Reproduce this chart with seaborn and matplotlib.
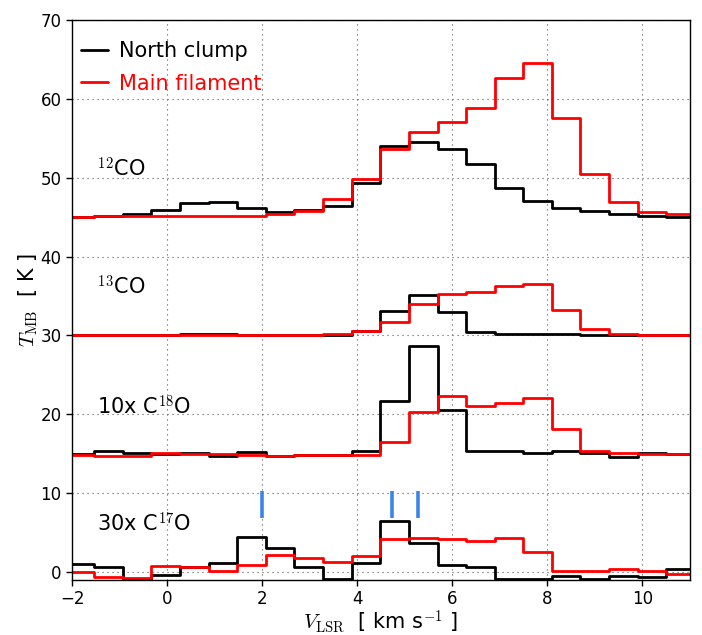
import numpy as np
import pandas as pd
import matplotlib
matplotlib.use("Agg")
import matplotlib.pyplot as plt
import seaborn as sns

# Channel edges (km/s)
v_edges = [-2.13, -1.53, -0.93, -0.33, 0.27, 0.88, 1.48, 2.08, 2.68, 3.28, 3.88,
           4.48, 5.09, 5.69, 6.29, 6.89, 7.49, 8.09, 8.69, 9.30, 9.90, 10.50, 11.10]

# Spectra (offset values as plotted), one value per channel
co12_north = [45.06, 45.2, 45.4, 45.95, 46.8, 46.9, 46.2, 45.65, 45.9, 46.4, 49.3,
              53.97, 54.5, 53.7, 51.7, 48.7, 47.1, 46.2, 45.8, 45.4, 45.2, 45.0]
co12_main = [45.06, 45.2, 45.2, 45.2, 45.2, 45.2, 45.2, 45.4, 45.8, 47.3, 49.9,
             53.6, 55.8, 57.1, 58.9, 62.7, 64.5, 57.6, 50.5, 46.9, 45.7, 45.4]
co13_north = [30.0, 30.0, 30.0, 30.0, 30.2, 30.2, 30.0, 30.0, 30.0, 30.0, 30.55,
              33.1, 35.1, 33.0, 30.5, 30.2, 30.2, 30.2, 30.0, 30.0, 30.0, 30.0]
co13_main = [30.0, 30.0, 30.0, 30.0, 30.0, 30.0, 30.0, 30.0, 30.0, 30.15, 30.55,
             31.7, 34.0, 35.2, 35.5, 36.3, 36.5, 33.2, 30.8, 30.15, 30.0, 30.0]
c18o_north = [15.0, 15.3, 15.1, 14.95, 15.06, 14.7, 15.2, 14.7, 14.9, 14.8, 15.3,
              21.7, 28.65, 20.6, 15.3, 15.3, 15.06, 15.3, 15.15, 14.55, 15.06, 15.0]
c18o_main = [14.9, 14.75, 14.75, 15.1, 15.0, 15.0, 14.9, 14.7, 14.8, 14.9, 14.9,
             16.5, 20.3, 22.3, 21.0, 21.5, 22.1, 18.2, 15.4, 15.06, 15.0, 15.0]
c17o_north = [1.05, 0.63, -0.85, -0.34, 0.63, 1.14, 4.5, 3.0, 0.63, -0.85, 1.14,
              6.5, 3.67, 0.93, 0.6, -0.85, -0.85, -0.46, -0.85, -0.46, -0.63, 0.42]
c17o_main = [-0.04, -0.63, -0.76, 0.8, 0.63, 0.2, 0.93, 2.2, 1.77, 1.27, 2.07,
             4.26, 4.35, 4.2, 4.0, 4.35, 2.53, 0.2, 0.2, 0.42, 0.08, -0.2]

# Blue velocity markers
marker_v = [2.0, 4.74, 5.27]
marker_ymin, marker_ymax = 6.8, 10.3

# Labels
line_labels = ["$^{12}$CO", "$^{13}$CO", "10x C$^{18}$O", "30x C$^{17}$O"]
label_y = [51.2, 36.2, 21.0, 6.1]
series_names = ["North clump", "Main filament"]
series_colors = ["black", "red"]

sns.set_theme(style="ticks")
plt.rcParams["font.family"] = ["DejaVu Sans"]
plt.rcParams["mathtext.fontset"] = "cm"
plt.rcParams["text.color"] = "black"
plt.rcParams["axes.labelcolor"] = "black"

fig = plt.figure(figsize=(7.02, 6.35), dpi=100)
ax = fig.add_axes([0.1026, 0.0866, 0.8803, 0.8819])

spectra = {
    "North clump": [co12_north, co13_north, c18o_north, c17o_north],
    "Main filament": [co12_main, co13_main, c18o_main, c17o_main],
}

for name, color in zip(series_names, series_colors):
    for i, vals in enumerate(spectra[name]):
        df = pd.DataFrame({"v": v_edges, "T": list(vals) + [vals[-1]]})
        sns.lineplot(data=df, x="v", y="T", ax=ax, color=color, lw=2.0,
                     drawstyle="steps-post", estimator=None, sort=False,
                     label=name if i == 0 else None, legend=False)

ax.vlines(marker_v, marker_ymin, marker_ymax, colors="#3a86e8", lw=2.6, zorder=3)

for lab, y in zip(line_labels, label_y):
    ax.text(-1.47, y, lab, fontsize=15, va="center", ha="left", color="black")

ax.set_xlim(-2, 11)
ax.set_ylim(-1.0, 70)
ax.set_xticks([-2, 0, 2, 4, 6, 8, 10])
ax.set_xticklabels(["\u22122", "0", "2", "4", "6", "8", "10"])
ax.set_yticks([0, 10, 20, 30, 40, 50, 60, 70])
ax.tick_params(labelsize=12, direction="out", length=4, width=1, colors="black")
ax.grid(True, color="#555555", linestyle=(0, (1, 3.5)), linewidth=0.8)
for s in ax.spines.values():
    s.set_visible(True)
    s.set_color("black")
    s.set_linewidth(1.0)

ax.set_xlabel(r"$V_{\rm LSR}$  [ km s$^{-1}$ ]", fontsize=15, labelpad=0, color="black")
ax.set_ylabel(r"$T_{\rm MB}$  [ K ]", fontsize=15, labelpad=0, color="black")

lines = [l for l in ax.get_lines() if l.get_label() in series_names]
leg = ax.legend(handles=lines, labels=series_names, loc="upper left", frameon=False,
                fontsize=15, handlelength=1.3, handletextpad=0.5,
                labelspacing=0.6, borderaxespad=0, borderpad=0,
                bbox_to_anchor=(0.0146, 0.962), labelcolor="linecolor")

fig.savefig("out.png", dpi=100)
